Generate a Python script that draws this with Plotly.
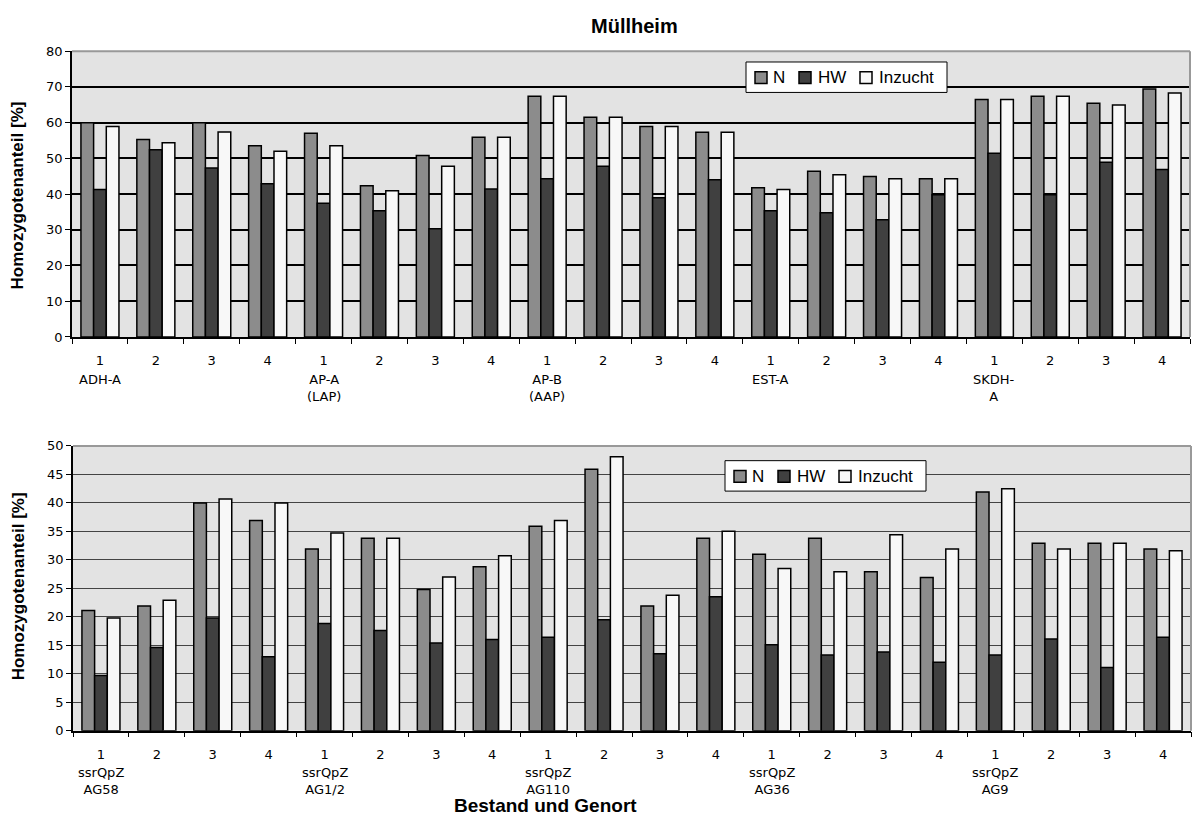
import plotly.graph_objects as go

# ---------------- data ----------------
series_names = ["N", "HW", "Inzucht"]
subgroup_labels = ["1", "2", "3", "4"] * 5

top_groups = ["ADH-A", "AP-A<br>(LAP)", "AP-B<br>(AAP)", "EST-A", "SKDH-<br>A"]
top_N = [60.0, 55.3, 60.0, 53.5, 57.0, 42.3, 50.8, 55.9, 67.4, 61.5,
         58.9, 57.3, 41.8, 46.4, 44.9, 44.3, 66.5, 67.4, 65.4, 69.4]
top_HW = [41.3, 52.4, 47.3, 42.9, 37.4, 35.3, 30.3, 41.4, 44.3, 47.8,
          39.0, 44.0, 35.3, 34.8, 32.8, 39.8, 51.4, 39.8, 48.9, 46.9]
top_I = [58.9, 54.4, 57.4, 52.0, 53.5, 40.9, 47.8, 55.9, 67.4, 61.5,
         58.9, 57.3, 41.3, 45.4, 44.3, 44.3, 66.5, 67.4, 64.9, 68.3]

bot_groups = ["ssrQpZ<br>AG58", "ssrQpZ<br>AG1/2", "ssrQpZ<br>AG110", "ssrQpZ<br>AG36", "ssrQpZ<br>AG9"]
bot_N = [21.1, 21.9, 40.0, 36.9, 31.9, 33.8, 24.8, 28.8, 35.9, 45.9,
         21.9, 33.8, 31.0, 33.8, 27.9, 26.9, 41.9, 32.9, 32.9, 31.9]
bot_HW = [9.7, 14.6, 19.8, 13.0, 18.8, 17.6, 15.4, 16.0, 16.4, 19.5,
          13.5, 23.5, 15.1, 13.3, 13.8, 12.0, 13.3, 16.1, 11.1, 16.4]
bot_I = [19.8, 22.9, 40.7, 40.0, 34.7, 33.8, 27.0, 30.7, 36.9, 48.1,
         23.8, 35.0, 28.5, 27.9, 34.4, 31.9, 42.5, 31.9, 32.9, 31.6]

title_text = "Müllheim"
y_title = "Homozygotenanteil [%]"
x_title = "Bestand und Genort"

# ---------------- style ----------------
W, H = 1196, 831
colors = ["#8c8c8c", "#404040", "#f8f8f8"]
tick_font = dict(family="DejaVu Sans", size=13, color="black")
bold_font = "Liberation Sans"

def px_x(v):
    return v / W

def px_y(v):
    return (H - v) / H

positions = list(range(len(subgroup_labels)))

fig = go.Figure()

for vals, name, col in zip([top_N, top_HW, top_I], series_names, colors):
    fig.add_trace(go.Bar(x=positions, y=vals, name=name, marker_color=col,
                         marker_line=dict(color="black", width=1.5),
                         xaxis="x", yaxis="y", showlegend=False))
for vals, name, col in zip([bot_N, bot_HW, bot_I], series_names, colors):
    fig.add_trace(go.Bar(x=positions, y=vals, name=name, marker_color=col,
                         marker_line=dict(color="black", width=1.5),
                         xaxis="x2", yaxis="y2", showlegend=False))

xcommon = dict(
    range=[-0.5, len(positions) - 0.5], tickmode="array", tickvals=positions,
    ticktext=subgroup_labels, tickfont=tick_font, showgrid=False, zeroline=False,
    showline=True, linecolor="black", linewidth=1.5,
    ticks="outside", ticklen=5, tickcolor="rgba(0,0,0,0)", ticklabelstandoff=6,
    minor=dict(tickmode="linear", tick0=0.5, dtick=1, ticks="outside",
               ticklen=5, tickcolor="black", tickwidth=1, showgrid=False),
)
ycommon = dict(
    tickfont=tick_font, showline=True, linecolor="black", linewidth=1.5,
    ticks="outside", ticklen=5, tickcolor="black", zeroline=False,
    showgrid=True,
)

fig.update_layout(
    width=W, height=H,
    margin=dict(l=0, r=0, t=0, b=0),
    paper_bgcolor="white", plot_bgcolor="#e3e3e3",
    barmode="group", bargap=0.32, bargroupgap=0,
    showlegend=False,
    xaxis=dict(domain=[px_x(72), px_x(1190)], anchor="y", **xcommon),
    yaxis=dict(domain=[px_y(336), px_y(45)], anchor="x", range=[0, 80], dtick=10,
               gridcolor="black", gridwidth=1.5, **ycommon),
    xaxis2=dict(domain=[px_x(73), px_x(1191)], anchor="y2", **xcommon),
    yaxis2=dict(domain=[px_y(737), px_y(447)], anchor="x2", range=[0, 50], dtick=5,
                gridcolor="#444444", gridwidth=1.3, **ycommon),
)

shapes = []
ann = []
for xr, yr in [("x domain", "y domain"), ("x2 domain", "y2 domain")]:
    shapes.append(dict(type="line", xref=xr, yref=yr, x0=0, x1=1, y0=1, y1=1,
                       line=dict(color="#999999", width=2)))
    shapes.append(dict(type="line", xref=xr, yref=yr, x0=1, x1=1, y0=0, y1=1,
                       line=dict(color="#999999", width=2)))

# legend boxes (one per panel): (left, top) in pixels
legend_font = dict(family=bold_font, size=17, color="black")
sq_off = [9, 53, 114]
txt_off = [25, 70, 131]
for (lx, ty) in [(746, 56), (725, 462)]:
    shapes.append(dict(type="rect", xref="paper", yref="paper",
                       x0=px_x(lx), x1=px_x(lx + 201), y0=px_y(ty + 31), y1=px_y(ty),
                       fillcolor="white", line=dict(color="black", width=1), layer="above"))
    cy = ty + 16
    for name, col, so, to in zip(series_names, colors, sq_off, txt_off):
        shapes.append(dict(type="rect", xref="paper", yref="paper",
                           x0=px_x(lx + so), x1=px_x(lx + so + 12),
                           y0=px_y(cy + 6), y1=px_y(cy - 6),
                           fillcolor=col, line=dict(color="black", width=1.5), layer="above"))
        ann.append(dict(text=name, x=px_x(lx + to), y=px_y(cy), xref="paper", yref="paper",
                        xanchor="left", yanchor="middle", showarrow=False, font=legend_font))

fig.update_layout(shapes=shapes)

ann.append(dict(text=f"<b>{title_text}</b>", x=px_x(634), y=px_y(19), xref="paper", yref="paper",
                xanchor="center", yanchor="middle", showarrow=False,
                font=dict(family=bold_font, size=20, color="black")))
for yc in [192, 590]:
    ann.append(dict(text=f"<b>{y_title}</b>", x=px_x(18), y=px_y(yc), xref="paper", yref="paper",
                    xanchor="center", yanchor="middle", showarrow=False, textangle=-90,
                    font=dict(family=bold_font, size=17, color="black")))
ann.append(dict(text=f"<b>{x_title}</b>", x=px_x(545), y=px_y(813), xref="paper", yref="paper",
                xanchor="center", yanchor="middle", showarrow=False,
                font=dict(family=bold_font, size=19, color="black")))
for i, g in enumerate(top_groups):
    ann.append(dict(text=g, x=positions[i * 4], y=px_y(370), xref="x", yref="paper",
                    xanchor="center", yanchor="top", showarrow=False, font=tick_font))
for i, g in enumerate(bot_groups):
    ann.append(dict(text=g, x=positions[i * 4], y=px_y(770), xref="x2", yref="paper",
                    xanchor="center", yanchor="top", showarrow=False, font=tick_font))
fig.update_layout(annotations=ann)

fig.write_html("out.html")
